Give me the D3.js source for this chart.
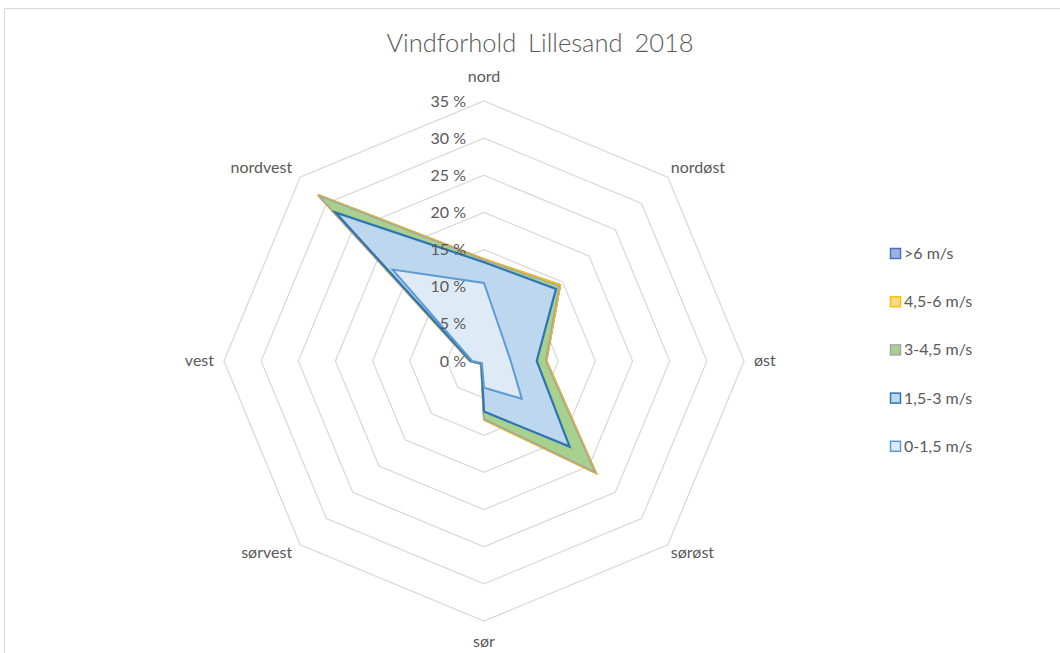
<!DOCTYPE html>
<html>
<head>
<meta charset="utf-8">
<script src="https://cdn.jsdelivr.net/npm/d3@7"></script>
<style>
  body { margin: 0; background: #fff; }
  svg text { font-family: Lato, "Open Sans", sans-serif; fill: #595959; }
</style>
</head>
<body>
<svg id="chart" width="1060" height="653"></svg>
<script>
// directions, clockwise from north
const directions = ["nord", "nordøst", "øst", "sørøst", "sør", "sørvest", "vest", "nordvest"]
const ticks = [0, 5, 10, 15, 20, 25, 30, 35]

// cumulative share of the year (%)
const over6 = [13.7, 14.5, 8.4, 21.3, 7.9, 0.55, 1.9, 31.6]
const from45to6 = [13.7, 14.5, 8.4, 21.3, 7.9, 0.55, 1.9, 31.6]
const from3to45 = [13.6, 14.3, 8.3, 21.1, 7.8, 0.5, 1.85, 31.45]
const from15to3 = [13.3, 13.7, 7.1, 16.3, 6.8, 0.5, 1.8, 28.3]
const from0to15 = [10.5, 3.8, 3.6, 7.2, 3.6, 0.4, 1.6, 17.4]

const seriesNames = [">6 m/s", "4,5-6 m/s", "3-4,5 m/s", "1,5-3 m/s", "0-1,5 m/s"]

const series = [
    { name: seriesNames[0], values: over6, fill: "#9fb1de", stroke: "#4472c4", width: 2 },
    { name: seriesNames[1], values: from45to6, fill: "#ffd98a", stroke: "#ffc000", width: 2 },
    { name: seriesNames[2], values: from3to45, fill: "#a9d18e", stroke: "#a5a5a5", width: 1.5 },
    { name: seriesNames[3], values: from15to3, fill: "#bdd7ee", stroke: "#2e75b6", width: 2.25 },
    { name: seriesNames[4], values: from0to15, fill: "#deebf7", stroke: "#5b9bd5", width: 2 }
]

const svg = d3.select("#chart")
const cx = 484, cy = 361, R = 260

// chart area border (only top and left are inside the picture)
svg.append("rect")
    .attr("x", 4.5).attr("y", 8.5)
    .attr("width", 1200).attr("height", 800)
    .attr("fill", "none").attr("stroke", "#d9d9d9")

svg.append("text")
    .attr("x", 540).attr("y", 52)
    .attr("text-anchor", "middle")
    .style("font-size", "25.5px").style("font-weight", 300)
    .style("word-spacing", "5px")
    .text("Vindforhold Lillesand 2018")

let r = d3.scaleLinear().domain([0, 35]).range([0, R])
let angle = i => i * 2 * Math.PI / directions.length

const g = svg.append("g").attr("transform", `translate(${cx},${cy})`)

let radial = d3.lineRadial()
    .angle((d, i) => angle(i))
    .radius(d => r(d))
    .curve(d3.curveLinearClosed)

// grid octagons
g.selectAll("path.grid")
    .data(ticks.filter(t => t > 0))
    .join("path")
    .attr("class", "grid")
    .attr("d", t => radial(directions.map(() => t)))
    .attr("fill", "none")
    .attr("stroke", "#d9d9d9")
    .attr("stroke-width", 1.25)

// filled series, biggest first
g.selectAll("path.area")
    .data(series)
    .join("path")
    .attr("class", "area")
    .attr("d", s => radial(s.values))
    .attr("fill", s => s.fill)
    .attr("stroke", s => s.stroke)
    .attr("stroke-width", s => s.width)
    .attr("stroke-linejoin", "miter")

// tick labels along the north axis
g.selectAll("text.tick")
    .data(ticks)
    .join("text")
    .attr("class", "tick")
    .attr("x", -18)
    .attr("y", t => -r(t) + 5.5)
    .attr("text-anchor", "end")
    .style("font-size", "16px")
    .text(t => t + " %")

// direction labels
g.selectAll("text.dir")
    .data(directions)
    .join("text")
    .attr("class", "dir")
    .each(function (d, i) {
        let a = angle(i)
        let x = R * Math.sin(a), y = -R * Math.cos(a)
        let sx = Math.round(Math.sin(a) * 100) / 100
        let sy = Math.round(Math.cos(a) * 100) / 100
        let anchor = sx > 0 ? "start" : sx < 0 ? "end" : "middle"
        let dx = sx === 0 ? 0 : Math.abs(sy) < 0.01 ? 10 * Math.sign(sx) : sx > 0 ? 3 : -8
        let dy = sy > 0.9 ? -19 : sy < -0.9 ? 26 : sy > 0 ? -4 : sy < 0 ? 13 : 5
        d3.select(this)
            .attr("x", x + dx).attr("y", y + dy)
            .attr("text-anchor", anchor)
            .style("font-size", "16px")
            .text(d)
    })

// legend
const legend = svg.append("g").attr("transform", "translate(890,248)")
const item = legend.selectAll("g")
    .data(series)
    .join("g")
    .attr("transform", (d, i) => `translate(0,${i * 48.2})`)

item.append("rect")
    .attr("x", 0.5).attr("y", 0.5)
    .attr("width", 10).attr("height", 10)
    .attr("fill", d => d.fill)
    .attr("stroke", d => d.stroke)
    .attr("stroke-width", 1.5)

item.append("text")
    .attr("x", 14).attr("y", 11)
    .style("font-size", "16px")
    .text(d => d.name)
</script>
</body>
</html>
